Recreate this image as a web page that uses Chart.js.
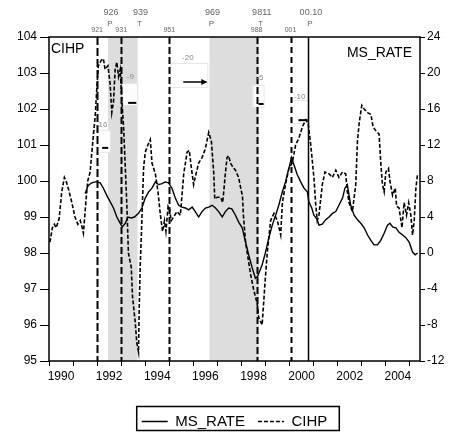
<!DOCTYPE html>
<html><head><meta charset="utf-8">
<style>html,body{margin:0;padding:0;background:#fff;}canvas{display:block;}</style>
<script src="https://cdn.jsdelivr.net/npm/chart.js@4.4.1/dist/chart.umd.min.js"></script>
</head><body>
<canvas id="c" width="452" height="439"></canvas>
<script>
// ---------- data ----------
const yearTicks = [1990,1991,1992,1993,1994,1995,1996,1997,1998,1999,2000,2001,2002,2003,2004,2005];
const leftTicks = [95,96,97,98,99,100,101,102,103,104];
const rightTicks = [-12,-8,-4,0,4,8,12,16,20,24];

const cihpDates = [
 1990.04,1990.14,1990.22,1990.3,1990.42,1990.53,1990.64,1990.71,1990.8,1990.95,
 1991.08,1991.2,1991.3,1991.36,1991.43,1991.53,1991.61,1991.71,1991.78,1991.85,1991.92,1991.99,
 1992.05,1992.17,1992.26,1992.33,1992.45,1992.54,1992.61,1992.68,1992.75,1992.82,1992.89,1992.96,
 1993.03,1993.1,1993.17,1993.24,1993.3,1993.42,1993.47,1993.58,1993.65,1993.72,1993.75,1993.79,1993.86,1993.93,
 1994.0,1994.11,1994.21,1994.28,1994.42,1994.53,1994.63,1994.72,1994.8,1994.86,1994.95,
 1995.0,1995.08,1995.18,1995.32,1995.46,1995.6,1995.67,1995.74,1995.83,1995.92,
 1996.01,1996.11,1996.22,1996.36,1996.5,1996.64,1996.75,1996.85,1996.89,1996.99,
 1997.13,1997.22,1997.33,1997.4,1997.47,1997.54,1997.63,1997.75,1997.88,
 1998.0,1998.04,1998.08,1998.17,1998.38,1998.5,1998.65,1998.72,1998.86,1998.97,
 1999.07,1999.21,1999.35,1999.49,1999.63,1999.7,1999.83,1999.97,
 2000.11,2000.25,2000.39,2000.53,2000.67,2000.77,2000.88,
 2001.01,2001.08,2001.15,2001.22,2001.36,2001.47,2001.64,2001.78,2001.92,
 2002.05,2002.2,2002.33,2002.4,2002.47,2002.61,2002.75,2002.82,2002.89,
 2003.0,2003.1,2003.24,2003.38,2003.47,2003.58,2003.72,2003.79,2003.86,2003.93,
 2004.0,2004.11,2004.17,2004.28,2004.39,2004.45,2004.55,2004.67,2004.76,2004.86,2004.95,
 2005.04,2005.11,2005.18,2005.25,2005.32
];
const cihpValues = [
 98.3,98.7,98.8,98.7,98.95,99.7,100.1,100.0,99.8,99.4,
 99.0,98.8,98.9,98.75,98.55,99.4,100.0,100.25,100.8,101.3,101.8,102.6,
 103.2,103.35,103.4,103.1,103.2,102.7,101.9,102.2,103.1,103.3,102.9,103.1,
 102.2,101.5,100.4,99.25,98.0,97.6,96.8,96.1,95.5,95.25,96.5,97.6,98.9,100.35,
 100.8,101.0,101.15,100.5,100.2,99.7,99.05,98.6,98.9,98.6,99.3,
 99.25,98.9,99.0,99.15,99.05,100.2,100.5,100.8,100.85,100.35,
 99.9,100.2,100.5,100.65,100.9,101.35,101.1,100.2,99.5,99.55,
 99.55,99.4,100.2,100.65,100.7,100.5,100.4,100.3,100.1,
 99.7,99.6,99.05,98.3,97.4,97.0,96.6,96.2,96.0,97.1,
 98.0,98.9,99.1,98.9,98.5,99.4,99.9,100.35,
 100.5,101.0,101.2,101.5,101.7,101.6,101.0,
 100.1,99.4,98.9,99.05,99.9,100.25,100.2,100.1,100.3,
 100.1,100.25,100.2,99.7,99.4,99.15,99.9,101.1,101.6,
 102.1,102.0,101.9,101.85,101.5,101.4,101.3,100.5,99.9,99.7,
 100.25,100.35,100.0,99.6,99.8,99.3,99.25,98.7,99.4,99.05,99.4,
 99.05,98.5,98.9,99.8,100.2
];

const msDates = [
 1991.5,1991.63,1991.78,1991.92,
 1992.0,1992.13,1992.26,1992.4,1992.54,1992.68,1992.82,1992.96,
 1993.05,1993.17,1993.28,1993.42,1993.55,1993.72,1993.86,
 1994.0,1994.14,1994.28,1994.42,1994.55,1994.7,1994.83,1994.97,
 1995.11,1995.25,1995.39,1995.53,1995.67,1995.8,1995.95,
 1996.08,1996.22,1996.36,1996.5,1996.64,1996.78,1996.92,
 1997.05,1997.2,1997.33,1997.47,1997.6,1997.75,1997.89,
 1998.03,1998.17,1998.3,1998.45,1998.58,1998.67,1998.86,
 1999.0,1999.14,1999.28,1999.42,1999.55,1999.7,1999.83,1999.97,
 2000.08,2000.18,2000.32,2000.46,2000.6,2000.74,2000.8,2000.92,
 2001.01,2001.15,2001.22,2001.36,2001.5,2001.64,2001.78,2001.92,
 2002.05,2002.2,2002.3,2002.4,2002.47,2002.54,2002.68,2002.82,2002.96,
 2003.1,2003.24,2003.38,2003.51,2003.65,2003.79,2003.93,
 2004.07,2004.17,2004.28,2004.42,2004.55,2004.7,2004.83,2004.97,
 2005.11,2005.22,2005.32
];
const msValues = [
 6.6,7.5,7.8,7.9,
 7.9,7.8,7.2,6.4,5.7,5.0,4.0,3.3,
 2.9,3.3,4.0,3.9,4.0,4.4,5.0,
 6.1,6.8,7.2,7.9,7.6,7.7,7.9,7.8,
 7.2,6.1,5.3,5.1,5.0,4.8,5.1,
 4.6,4.0,4.6,5.0,5.1,5.3,5.0,
 4.6,4.0,4.6,5.0,4.9,4.2,3.4,
 2.8,1.2,-0.2,-1.7,-2.8,-2.6,-1.3,
 0.1,1.7,3.1,4.2,5.3,6.8,7.9,9.4,
 10.6,9.8,8.7,7.9,7.2,6.8,5.7,5.0,
 4.2,3.7,3.1,3.2,3.7,4.0,4.4,4.6,
 5.3,6.1,7.2,7.6,6.4,5.3,4.2,3.7,3.3,
 2.8,2.0,1.4,0.9,0.9,1.4,2.2,
 3.1,3.3,2.9,2.8,2.3,2.0,1.7,1.2,
 0.1,-0.2,0.0
];

// shaded periods (peak -> trough)
const shadeStart = [1992.45, 1996.67];
const shadeEnd   = [1993.68, 1998.72];
// turning point labels above the frame
const turnDates  = [1992.45, 1993.68, 1996.67, 1998.72, 2000.76];
const turnLabels = ['926', '939', '969', '9811', '00.10'];
const turnKinds  = ['P', 'T', 'P', 'T', 'P'];
// vertical event lines
const eventDates  = [1992.0, 1993.0, 1995.0, 1998.63, 2000.04, 2000.76];
const eventLabels = ['921', '931', '951', '988', '001', ''];
// small notes inside the plot
const noteLabels = ['-16', '-9', '-20', '-5', '-10'];
const noteDates  = [1992.19, 1993.38, 1995.77, 1998.77, 2000.42];
const noteLevels = [101.56, 102.89, 103.42, 102.86, 102.33];

// ---------- presentation ----------
const FONT = "'Liberation Sans', Arial, sans-serif";
const eventStyles = [
  {dash:[8,3], w:2}, {dash:[7,3], w:2}, {dash:[7,3], w:2},
  {dash:[7,3], w:2}, {dash:[6,4], w:2}, {dash:[], w:1.5}
];
const noteBoxes = [ // [x0,x1,y0,y1] in data units (left axis)
  [1991.79,1992.54,101.42,100.81],
  [1993.04,1993.67,102.72,102.11],
  [1995.04,1996.58,103.28,102.61],
  [1998.46,1998.92,102.67,102.06],
  [2000.04,2000.79,102.25,101.61]
];
const noteMarks = [ // short black strokes [x0,x1,y]
  [1992.21,1992.46,100.92],
  [1993.29,1993.63,102.17],
  null,
  [1998.71,1998.92,102.14],
  [2000.37,2000.75,101.69]
];

const decor = {
  id: 'decor',
  beforeDatasetsDraw(chart) {
    const {ctx, chartArea: ca, scales: {x, y}} = chart;
    ctx.save();
    ctx.fillStyle = '#dddddd';
    shadeStart.forEach((s, i) => {
      const a = x.getPixelForValue(s), b = x.getPixelForValue(shadeEnd[i]);
      ctx.fillRect(a, ca.top, b - a, ca.bottom - ca.top);
    });
    // note boxes
    ctx.strokeStyle = '#e6e6e6'; ctx.lineWidth = 1;
    noteBoxes.forEach(bx => {
      const a = x.getPixelForValue(bx[0]), b = x.getPixelForValue(bx[1]);
      const t = y.getPixelForValue(bx[2]), u = y.getPixelForValue(bx[3]);
      ctx.fillStyle = 'rgba(255,255,255,0.9)';
      ctx.fillRect(a, t, b - a, u - t);
      ctx.strokeRect(a + 0.5, t + 0.5, b - a, u - t);
    });
    // event lines
    eventDates.forEach((d, i) => {
      const px = Math.round(x.getPixelForValue(d)) + 0.5;
      const st = eventStyles[i];
      ctx.strokeStyle = '#000'; ctx.lineWidth = st.w; ctx.setLineDash(st.dash);
      ctx.beginPath(); ctx.moveTo(px, ca.top); ctx.lineTo(px, ca.bottom); ctx.stroke();
    });
    ctx.setLineDash([]);
    // notes
    ctx.font = '8px ' + FONT; ctx.fillStyle = '#8a8a8a';
    ctx.textAlign = 'center'; ctx.textBaseline = 'middle';
    noteLabels.forEach((t, i) => {
      ctx.fillText(t, x.getPixelForValue(noteDates[i]), y.getPixelForValue(noteLevels[i]));
    });
    ctx.strokeStyle = '#000'; ctx.lineWidth = 2;
    noteMarks.forEach(m => {
      if (!m) return;
      const yy = y.getPixelForValue(m[2]);
      ctx.beginPath(); ctx.moveTo(x.getPixelForValue(m[0]), yy); ctx.lineTo(x.getPixelForValue(m[1]), yy); ctx.stroke();
    });
    // arrow in the -20 note
    const ay = y.getPixelForValue(102.75);
    const ax0 = x.getPixelForValue(1995.58), ax1 = x.getPixelForValue(1996.58);
    ctx.lineWidth = 1.5;
    ctx.beginPath(); ctx.moveTo(ax0, ay); ctx.lineTo(ax1 - 1, ay); ctx.stroke();
    ctx.beginPath(); ctx.moveTo(ax1, ay); ctx.lineTo(ax1 - 6, ay - 3); ctx.lineTo(ax1 - 6, ay + 3); ctx.closePath();
    ctx.fillStyle = '#000'; ctx.fill();
    ctx.restore();
  },
  afterDraw(chart) {
    const {ctx, chartArea: ca, scales: {x}} = chart;
    ctx.save();
    // frame
    ctx.strokeStyle = '#000'; ctx.lineWidth = 1.5;
    ctx.strokeRect(ca.left, ca.top, ca.right - ca.left, ca.bottom - ca.top);
    // labels above frame
    ctx.fillStyle = '#666'; ctx.textAlign = 'center'; ctx.textBaseline = 'middle';
    turnDates.forEach((d, i) => {
      const px = x.getPixelForValue(d);
      ctx.font = '9px ' + FONT;
      ctx.fillText(turnLabels[i], px + 3, 13);
      ctx.font = '8px ' + FONT;
      ctx.fillText(turnKinds[i], px + 2, 24);
    });
    ctx.font = '7px ' + FONT;
    eventDates.forEach((d, i) => {
      if (!eventLabels[i]) return;
      ctx.fillText(eventLabels[i], x.getPixelForValue(d), 30);
    });
    // series names inside the plot
    ctx.fillStyle = '#000'; ctx.font = '14px ' + FONT;
    ctx.textAlign = 'left'; ctx.fillText('CIHP', ca.left + 2, ca.top + 12);
    ctx.textAlign = 'right'; ctx.fillText('MS_RATE', ca.right - 8, ca.top + 16);
    // legend border
    const lg = chart.legend;
    if (lg && lg.legendHitBoxes && lg.legendHitBoxes.length) {
      const hb = lg.legendHitBoxes;
      const last = hb[hb.length - 1];
      const cy = hb[0].top + hb[0].height / 2;
      ctx.lineWidth = 1.5; ctx.strokeStyle = '#000';
      ctx.strokeRect(hb[0].left - 5, cy - 15, last.left + last.width + 12 - (hb[0].left - 5), 24);
    }
    ctx.restore();
  }
};

new Chart(document.getElementById('c'), {
  type: 'line',
  data: {
    datasets: [
      {
        label: 'MS_RATE', yAxisID: 'y1',
        data: msDates.map((d, i) => ({x: d, y: msValues[i]})),
        borderColor: '#000', backgroundColor: 'rgba(0,0,0,0)', borderWidth: 1.4,
        pointRadius: 0, tension: 0
      },
      {
        label: 'CIHP', yAxisID: 'y',
        data: cihpDates.map((d, i) => ({x: d, y: cihpValues[i]})),
        borderColor: '#000', backgroundColor: 'rgba(0,0,0,0)', borderWidth: 1.6,
        borderDash: [4, 2], pointRadius: 0, tension: 0
      }
    ]
  },
  options: {
    responsive: false, animation: false, devicePixelRatio: 1,
    layout: {padding: {top: 37, left: 0, right: 0, bottom: 0}},
    plugins: {
      tooltip: {enabled: false},
      legend: {
        position: 'bottom', fullSize: false,
        labels: {boxWidth: 26, boxHeight: 0, padding: 13, color: '#000', font: {family: FONT, size: 15}}
      }
    },
    scales: {
      x: {
        type: 'linear', min: 1990, max: 2005.42,
        afterBuildTicks: s => { s.ticks = yearTicks.map(v => ({value: v})); },
        afterFit: s => { s.height = 40; },
        grid: {drawOnChartArea: false, drawTicks: true, tickLength: 5, color: '#000', lineWidth: 1},
        border: {display: false},
        ticks: {autoSkip: false, maxRotation: 0, padding: 3, labelOffset: 12, color: '#000',
          font: {family: FONT, size: 12},
          callback: v => (v % 2 === 0 ? String(v) : '')}
      },
      y: {
        position: 'left', min: 95, max: 104,
        afterBuildTicks: s => { s.ticks = leftTicks.map(v => ({value: v})); },
        afterFit: s => { s.width = 49; },
        grid: {drawOnChartArea: false, drawTicks: true, tickLength: 9, color: '#000', lineWidth: 1},
        border: {display: false},
        ticks: {padding: 3, color: '#000', font: {family: FONT, size: 12}}
      },
      y1: {
        position: 'right', min: -12, max: 24,
        afterBuildTicks: s => { s.ticks = rightTicks.map(v => ({value: v})); },
        afterFit: s => { s.width = 32; },
        grid: {drawOnChartArea: false, drawTicks: true, tickLength: 5, color: '#000', lineWidth: 1},
        border: {display: false},
        ticks: {padding: 2, color: '#000', font: {family: FONT, size: 12}}
      }
    }
  },
  plugins: [decor]
});
</script>
</body></html>
